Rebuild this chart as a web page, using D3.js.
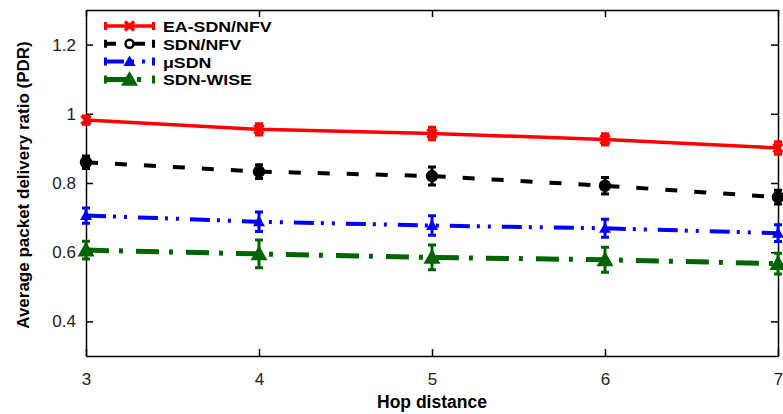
<!DOCTYPE html>
<html>
<head>
<meta charset="utf-8">
<script src="https://cdn.jsdelivr.net/npm/d3@7"></script>
<style>
  body { margin: 0; background: #fff; }
  svg { font-family: "Liberation Sans", Arial, sans-serif; }
  .axis text { font-size: 17px; fill: #222; }
  .axis line, .axis path { stroke: #000; stroke-width: 1.5px; }
</style>
</head>
<body>
<script>
// hop distances on the x axis
const hops = [3, 4, 5, 6, 7];

// average PDR per scheme
const eaSdnNfv = [0.982, 0.955, 0.943, 0.926, 0.901];
const sdnNfv   = [0.860, 0.833, 0.820, 0.792, 0.759];
const muSdn    = [0.706, 0.688, 0.677, 0.669, 0.655];
const sdnWise  = [0.606, 0.595, 0.585, 0.578, 0.567];

// error bar half-widths
const eaSdnNfvErr = [0.012, 0.016, 0.018, 0.016, 0.018];
const sdnNfvErr   = [0.018, 0.020, 0.026, 0.024, 0.020];
const muSdnErr    = [0.022, 0.028, 0.028, 0.026, 0.024];
const sdnWiseErr  = [0.026, 0.040, 0.036, 0.036, 0.030];

const yTicks = [0.4, 0.6, 0.8, 1, 1.2];
const seriesNames = ["EA-SDN/NFV", "SDN/NFV", "\u03bcSDN", "SDN-WISE"];

const boxSize = { upper: 10, lower: 58, left: 86, right: 5 };
const width = 783 - boxSize.left - boxSize.right;
const height = 414 - boxSize.upper - boxSize.lower;

const xScale = d3.scaleLinear().domain([3, 7]).range([0, width]);
const yScale = d3.scaleLinear().domain([0.3, 1.3]).range([height, 0]);

const styles = [
  { color: "#ff0000", dash: null, lw: 3.5, mark: "cross" },
  { color: "#000000", dash: "12,17", lw: 4, mark: "circle" },
  { color: "#0000ff", dash: "20,7,3,8,3,11", lw: 4, mark: "tri" },
  { color: "#006400", dash: "23,10,4,13", lw: 5, mark: "bigtri" }
];

const series = [eaSdnNfv, sdnNfv, muSdn, sdnWise].map((vals, i) => ({
  name: seriesNames[i],
  style: styles[i],
  err: [eaSdnNfvErr, sdnNfvErr, muSdnErr, sdnWiseErr][i],
  points: vals.map((v, j) => ({ x: hops[j], y: v }))
}));

const svg = d3.select("body")
  .append("svg")
  .attr("width", 783)
  .attr("height", 414)
  .append("g")
  .attr("transform", "translate(" + boxSize.left + "," + boxSize.upper + ")");

// axes with inward ticks, mirrored on top and right
svg.append("g").attr("class", "axis")
  .attr("transform", "translate(0," + height + ")")
  .call(d3.axisBottom(xScale).tickValues(hops).tickSizeInner(-7).tickSizeOuter(0).tickPadding(17).tickFormat(d3.format("d")));
svg.append("g").attr("class", "axis")
  .call(d3.axisTop(xScale).tickValues(hops).tickSizeInner(-7).tickSizeOuter(0).tickFormat(""));
svg.append("g").attr("class", "axis")
  .call(d3.axisLeft(yScale).tickValues(yTicks).tickSizeInner(-7).tickSizeOuter(0).tickPadding(10).tickFormat(d => d3.format("")(d)));
svg.append("g").attr("class", "axis")
  .attr("transform", "translate(" + width + ",0)")
  .call(d3.axisRight(yScale).tickValues(yTicks).tickSizeInner(-7).tickSizeOuter(0).tickFormat(""));

svg.append("text")
  .attr("x", xScale(5))
  .attr("y", height + 52)
  .attr("text-anchor", "middle")
  .style("font-size", "17.5px")
  .style("font-weight", "bold")
  .text("Hop distance");

svg.append("text")
  .attr("transform", "rotate(-90)")
  .attr("x", -(185 - boxSize.upper))
  .attr("y", -(boxSize.left - 29))
  .attr("text-anchor", "middle")
  .style("font-size", "17px")
  .style("font-weight", "bold")
  .text("Average packet delivery ratio (PDR)");

function drawMark(g, mark, color, cx, cy, legend) {
  if (mark === "cross") {
    const s = 4.5;
    g.append("path")
      .attr("d", `M${cx - s},${cy - s}L${cx + s},${cy + s}M${cx - s},${cy + s}L${cx + s},${cy - s}`)
      .attr("stroke", color).attr("stroke-width", 3.5).attr("fill", "none");
  } else if (mark === "circle") {
    g.append("circle").attr("cx", cx).attr("cy", cy).attr("r", legend ? 4 : 5)
      .attr("fill", legend ? "#fff" : color).attr("stroke", color).attr("stroke-width", 2.5);
  } else {
    const s = mark === "tri" ? 6 : 8.5;
    g.append("path")
      .attr("d", `M${cx},${cy - s}L${cx + s},${cy + s * 0.75}L${cx - s},${cy + s * 0.75}Z`)
      .attr("fill", color);
  }
}

const line = d3.line().x(d => xScale(d.x)).y(d => yScale(d.y));

series.forEach((s) => {
  const g = svg.append("g");
  g.append("path")
    .datum(s.points)
    .attr("d", line)
    .attr("fill", "none")
    .attr("stroke", s.style.color)
    .attr("stroke-width", s.style.lw)
    .attr("stroke-dasharray", s.style.dash);

  s.points.forEach((p, j) => {
    const cx = xScale(p.x);
    const top = yScale(p.y + s.err[j]);
    const bot = yScale(p.y - s.err[j]);
    g.append("path")
      .attr("d", `M${cx},${top}L${cx},${bot}M${cx - 4},${top}L${cx + 4},${top}M${cx - 4},${bot}L${cx + 4},${bot}`)
      .attr("stroke", s.style.color)
      .attr("stroke-width", 3)
      .attr("fill", "none");
    drawMark(g, s.style.mark, s.style.color, cx, yScale(p.y), false);
  });
});

// legend, top left inside the frame
const legend = svg.append("g")
  .attr("id", "legend")
  .attr("transform", "translate(" + (104 - boxSize.left) + "," + (26 - boxSize.upper) + ")");

series.forEach((s, i) => {
  const row = legend.append("g").attr("transform", "translate(0," + i * 17.8 + ")");
  row.append("line")
    .attr("x1", 0).attr("x2", 51)
    .attr("stroke", s.style.color)
    .attr("stroke-width", s.style.lw)
    .attr("stroke-dasharray", s.style.dash);
  row.append("path")
    .attr("d", "M1.5,-4L1.5,4M49.5,-4L49.5,4")
    .attr("stroke", s.style.color).attr("stroke-width", 3);
  drawMark(row, s.style.mark, s.style.color, 25.5, 0, true);
  const label = row.append("text")
    .attr("x", 59)
    .attr("y", 6)
    .style("font-size", "15.2px")
    .style("font-weight", "bold")
    .text(s.name);
  // the reference glyphs are wider than Liberation at this height
  label.attr("textLength", label.node().getComputedTextLength() * 1.17)
    .attr("lengthAdjust", "spacingAndGlyphs");
});
</script>
</body>
</html>
